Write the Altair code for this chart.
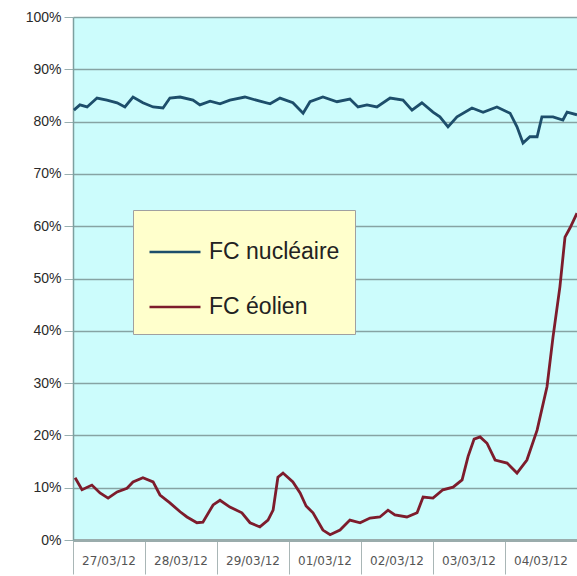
import altair as alt
import pandas as pd

# Hours since 27/03/12 00:00 and capacity factor (%) for each series
nuc_hours = [0.3, 2.3, 4.7, 8.0, 11.3, 14.7, 17.3, 20.0, 23.3, 26.7, 30.0, 32.3, 35.7,
             40.0, 42.3, 45.7, 49.0, 52.3, 57.3, 62.3, 65.7, 69.0, 73.3, 76.7, 79.0,
             83.3, 88.0, 92.3, 95.0, 98.0, 101.3, 105.7, 110.0, 113.0, 116.3, 120.0,
             122.3, 125.0, 128.0, 133.0, 136.7, 141.3, 145.7, 148.0, 150.0, 152.3,
             154.7, 156.3, 160.0, 163.3, 164.7, 168.0]
nuc_values = [82.2, 83.2, 82.8, 84.5, 84.1, 83.6, 82.8, 84.7, 83.6, 82.8, 82.6, 84.5, 84.7,
              84.1, 83.2, 83.9, 83.4, 84.1, 84.7, 83.9, 83.4, 84.5, 83.6, 81.6, 83.8,
              84.7, 83.8, 84.3, 82.8, 83.2, 82.8, 84.5, 84.1, 82.2, 83.6, 81.8,
              80.9, 79.0, 80.9, 82.6, 81.8, 82.8, 81.6, 79.0, 75.9, 77.1,
              77.1, 80.9, 80.9, 80.3, 81.8, 81.3]

wind_hours = [0.7, 3.0, 6.3, 9.0, 11.7, 14.7, 18.0, 20.0, 23.3, 26.7, 29.0, 32.3, 35.7,
              38.0, 41.3, 43.3, 46.7, 49.0, 52.3, 56.3, 59.0, 62.3, 65.0, 66.7, 68.3,
              70.0, 73.3, 75.7, 77.7, 80.0, 83.3, 85.7, 89.0, 92.3, 95.7, 99.0, 102.3,
              105.0, 107.3, 111.3, 114.7, 116.7, 120.0, 123.3, 126.7, 129.7, 131.7,
              133.7, 135.7, 138.0, 140.7, 144.7, 148.0, 151.3, 154.7, 158.0, 160.0,
              162.3, 164.0, 165.7, 168.0]
wind_values = [11.9, 9.6, 10.5, 9.0, 8.0, 9.2, 9.9, 11.1, 11.9, 11.1, 8.6, 7.1, 5.4,
               4.4, 3.3, 3.4, 6.7, 7.6, 6.3, 5.2, 3.3, 2.5, 3.8, 5.7, 12.0,
               12.8, 11.1, 9.0, 6.5, 5.2, 1.9, 1.0, 1.9, 3.8, 3.3, 4.2, 4.4,
               5.7, 4.8, 4.4, 5.2, 8.2, 8.0, 9.6, 10.1, 11.5, 16.0,
               19.3, 19.7, 18.5, 15.3, 14.7, 12.8, 15.3, 21.0, 29.3, 38.8,
               48.4, 57.9, 59.7, 62.5]

series_names = ["FC nucléaire", "FC éolien"]
series_colors = ["#1d4e6b", "#7d1c2c"]

day_labels = ["27/03/12", "28/03/12", "29/03/12", "01/03/12", "02/03/12", "03/03/12", "04/03/12"]
day_mid_hours = [12, 36, 60, 84, 108, 132, 156]
day_edges = [0, 24, 48, 72, 96, 120, 144, 168]

rows = []
for h, v in zip(nuc_hours, nuc_values):
    rows.append({"heure": h, "fc": v / 100, "serie": series_names[0]})
for h, v in zip(wind_hours, wind_values):
    rows.append({"heure": h, "fc": v / 100, "serie": series_names[1]})
df = pd.DataFrame(rows)

labels_df = pd.DataFrame({"mid": day_mid_hours, "label": day_labels})

W, H = 504, 523
x_scale = alt.Scale(domain=[0, 168], nice=False, zero=False)

lines = alt.Chart(df).mark_line(strokeWidth=2.8, interpolate="linear").encode(
    x=alt.X("heure:Q", scale=x_scale,
            axis=alt.Axis(values=day_edges, labels=False, title=None, grid=False,
                          tickSize=34, tickColor="#a9b6b6", tickWidth=1,
                          domainColor="#9aacac", domainWidth=3)),
    y=alt.Y("fc:Q", scale=alt.Scale(domain=[0, 1], nice=False),
            axis=alt.Axis(values=[i / 10 for i in range(11)], format=".0%", title=None,
                          gridColor="#86a3a3", gridWidth=1.6, tickSize=9,
                          tickColor="#9ab0b0", labelPadding=3, labelFontSize=14,
                          labelFont="Liberation Sans", labelColor="#2a2a2a",
                          domainColor="#7d9f9f", domainWidth=1.5)),
    color=alt.Color("serie:N", title=None,
                    scale=alt.Scale(domain=series_names, range=series_colors),
                    sort=series_names),
    detail="serie:N",
)

day_text = alt.Chart(labels_df).mark_text(
    fontSize=12, font="DejaVu Sans", color="#555555", baseline="middle", align="center"
).encode(
    x=alt.X("mid:Q", scale=x_scale),
    y=alt.value(H + 21),
    text="label:N",
)

chart = alt.layer(lines, day_text).properties(
    width=W, height=H,
    autosize=alt.AutoSizeParams(type="none"),
    padding={"left": 73, "top": 17, "right": 0, "bottom": 36},
    background="#ffffff",
).configure_view(
    fill="#ccfcfc", stroke="#ccfcfc"
).configure_legend(
    orient="none", legendX=60, legendY=193,
    fillColor="#ffffcc", strokeColor="#a0a0a0", padding=15, cornerRadius=0,
    symbolType="stroke", symbolSize=2600, symbolStrokeWidth=2.5,
    labelFontSize=23, labelFont="Liberation Sans", labelColor="#222222",
    labelOffset=7, rowPadding=16, labelLimit=300,
)

chart.save("out.html", embed_options={"renderer": "svg", "actions": False})
